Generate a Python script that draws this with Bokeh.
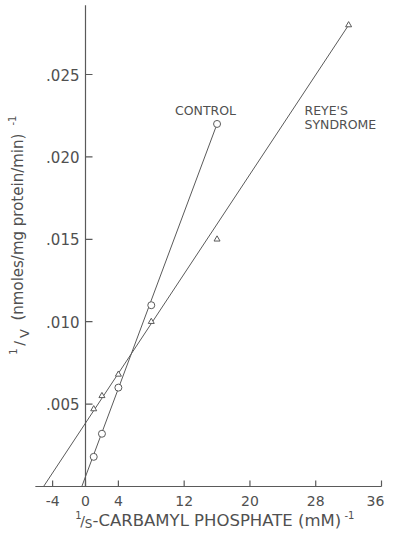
import numpy as np
from bokeh.plotting import figure
from bokeh.models import Range1d, ColumnDataSource
from bokeh.core.properties import value
from bokeh.embed import file_html
from bokeh.resources import INLINE

# ---- data (Lineweaver-Burk plot) ----
s_control = [1, 2, 4, 8, 16]
v_control = [0.0018, 0.0032, 0.0060, 0.0110, 0.0220]
s_reye = [1, 2, 4, 8, 16, 32]
v_reye = [0.0047, 0.0055, 0.0068, 0.0100, 0.0150, 0.0280]

# fitted lines (start at x-intercept, end at last point)
fit_control_s = [-0.45, 16]
fit_control_v = [0.0, 0.0220]
fit_reye_s = [-5.1, 32]
fit_reye_v = [0.0, 0.0280]

x_ticks = [-4, 0, 4, 12, 20, 28, 36]
x_tick_labels = ["-4", "0", "4", "12", "20", "28", "36"]
y_ticks = [0.005, 0.010, 0.015, 0.020, 0.025]
y_tick_labels = [".005", ".010", ".015", ".020", ".025"]
x_axis_extent = [-6.1, 36]
y_axis_extent = [0.0, 0.0292]

# ---- layout ----
W, H = 385, 530
SX = 296 / 36.0
SY = 412 / 0.025
X0 = -(93 - 8) / SX
X1 = X0 + W / SX
Y1 = (494 - 8) / SY
Y0 = Y1 - H / SY


def P(xp, yp):
    """page pixel -> data coords"""
    return X0 + (xp - 8) / SX, Y1 - (yp - 8) / SY


C = "#5a5a5a"
TC = "#505050"
FONT = value("DejaVu Sans")

p = figure(width=W, height=H, x_range=Range1d(X0, X1), y_range=Range1d(Y0, Y1),
           output_backend="svg", toolbar_location=None, min_border=0,
           x_axis_location=None, y_axis_location=None)
p.grid.visible = False
p.outline_line_color = None
p.background_fill_color = "white"
p.border_fill_color = "white"

# axes
p.line(x_axis_extent, [0, 0], line_color=C, line_width=1.2)
p.line([0, 0], y_axis_extent, line_color=C, line_width=1.2)
p.segment(x0=x_ticks, y0=[0] * len(x_ticks), x1=x_ticks,
          y1=[6 / SY] * len(x_ticks), line_color=C, line_width=1.2)
p.segment(x0=[0] * len(y_ticks), y0=y_ticks, x1=[7 / SX] * len(y_ticks),
          y1=y_ticks, line_color=C, line_width=1.2)

# tick labels (last one nudged inward so it stays inside the page)
xlab_src = ColumnDataSource(dict(
    x=x_ticks, y=[P(0, 508)[1]] * len(x_ticks), text=x_tick_labels,
    xo=[0] * (len(x_ticks) - 1) + [-6]))
p.text(x="x", y="y", text="text", x_offset="xo", source=xlab_src,
       text_font=FONT, text_font_size="14px", text_color=TC,
       text_align="center", text_baseline="middle")
p.text(x=[P(87, 0)[0]] * len(y_ticks), y=y_ticks, text=y_tick_labels,
       text_font=FONT, text_font_size="15px", text_color=TC,
       text_align="right", text_baseline="middle")

# fitted lines
p.line(fit_control_s, fit_control_v, line_color=C, line_width=1)
p.line(fit_reye_s, fit_reye_v, line_color=C, line_width=1)

# points
p.scatter(s_control, v_control, marker="circle", size=7, fill_color="white",
          line_color=C, line_width=1)
p.scatter(s_reye, v_reye, marker="triangle", size=6, fill_color="white",
          line_color=C, line_width=1)


def txt(xp, yp, t, size, align="center", angle=0.0):
    x, y = P(xp, yp)
    p.text(x=[x], y=[y], text=[t], text_font=FONT, text_font_size=size,
           text_color=TC, text_align=align, text_baseline="middle", angle=angle)


# series labels
txt(213, 118, "CONTROL", "12.5px")
txt(312, 118, "REYE'S", "12.5px", align="left")
txt(312, 132, "SYNDROME", "12.5px", align="left")

# x-axis label
txt(86, 522, "1", "10px")
txt(90, 528, "/", "14px")
txt(96, 531, "S", "12px")
txt(100, 528, "-CARBAMYL PHOSPHATE (mM)", "16.5px", align="left")
txt(357, 522, "-1", "10px")

# y-axis label (rotated)
A = np.pi / 2
txt(20, 359, "1", "10px", angle=A)
txt(26, 351, "/", "14px", angle=A)
txt(32, 341, "V", "13px", angle=A)
txt(25, 328, "(nmoles/mg protein/min)", "15px", align="left", angle=A)
txt(19, 128, "-1", "10px", angle=A)

open("out.html", "w").write(file_html(p, INLINE))
